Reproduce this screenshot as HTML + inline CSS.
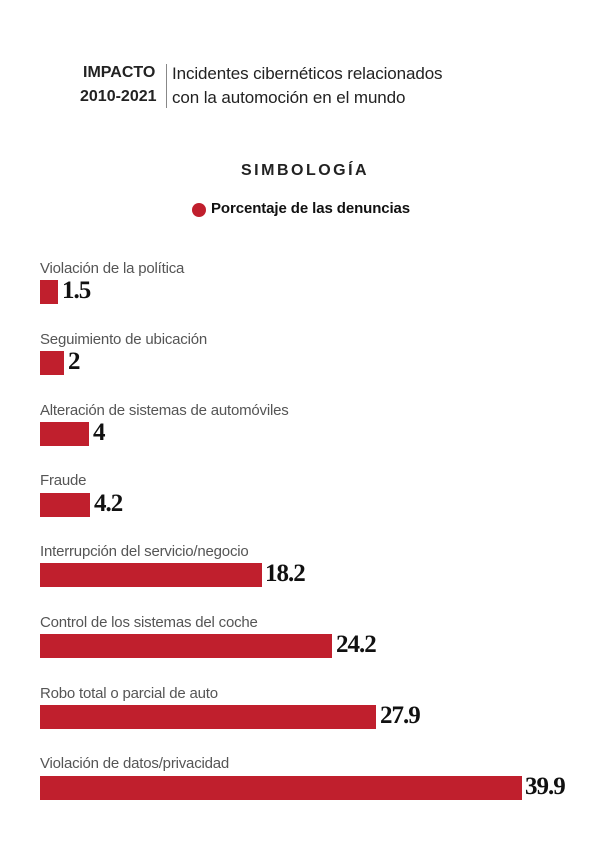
<!DOCTYPE html>
<html><head><meta charset="utf-8"><style>
body{margin:0;width:610px;height:855px;background:#fff;position:relative;font-family:"Liberation Sans",sans-serif;overflow:hidden}
.a{position:absolute;white-space:nowrap}
.lab{position:absolute;left:40px;font-size:15px;color:#555;white-space:nowrap;letter-spacing:-0.2px}
.bar{position:absolute;left:40px;height:24px;background:#c01f2d}
.val{position:absolute;font-family:"Liberation Serif",serif;font-weight:bold;font-size:25px;color:#111;white-space:nowrap;letter-spacing:-1px}
</style></head><body>
<div class="a" style="left:83px;top:64px;font-size:16px;font-weight:bold;color:#222">IMPACTO</div>
<div class="a" style="left:80px;top:88px;font-size:16px;font-weight:bold;color:#222">2010-2021</div>
<div class="a" style="left:166px;top:64px;width:1px;height:44px;background:#888"></div>
<div class="a" style="left:172px;top:64px;font-size:17px;color:#222;letter-spacing:-0.1px">Incidentes cibernéticos relacionados</div>
<div class="a" style="left:172px;top:88px;font-size:17px;color:#222;letter-spacing:-0.1px">con la automoción en el mundo</div>
<div class="a" style="left:241px;top:162px;font-size:16px;font-weight:bold;letter-spacing:2.5px;color:#222">SIMBOLOGÍA</div>
<div class="a" style="left:192px;top:203px;width:14px;height:14px;border-radius:50%;background:#c01f2d"></div>
<div class="a" style="left:211px;top:200px;font-size:15px;font-weight:bold;color:#111;letter-spacing:-0.1px">Porcentaje de las denuncias</div>

<div class="lab" style="top:260px">Violación de la política</div>
<div class="bar" style="top:280px;width:18px"></div><div class="val" style="left:62px;top:277px">1.5</div>
<div class="lab" style="top:331px">Seguimiento de ubicación</div>
<div class="bar" style="top:351px;width:24px"></div><div class="val" style="left:68px;top:348px">2</div>
<div class="lab" style="top:402px">Alteración de sistemas de automóviles</div>
<div class="bar" style="top:422px;width:49px"></div><div class="val" style="left:93px;top:419px">4</div>
<div class="lab" style="top:472px">Fraude</div>
<div class="bar" style="top:493px;width:50px"></div><div class="val" style="left:94px;top:490px">4.2</div>
<div class="lab" style="top:543px">Interrupción del servicio/negocio</div>
<div class="bar" style="top:563px;width:222px"></div><div class="val" style="left:265px;top:560px">18.2</div>
<div class="lab" style="top:614px">Control de los sistemas del coche</div>
<div class="bar" style="top:634px;width:292px"></div><div class="val" style="left:336px;top:631px">24.2</div>
<div class="lab" style="top:685px">Robo total o parcial de auto</div>
<div class="bar" style="top:705px;width:336px"></div><div class="val" style="left:380px;top:702px">27.9</div>
<div class="lab" style="top:755px">Violación de datos/privacidad</div>
<div class="bar" style="top:776px;width:482px"></div><div class="val" style="left:525px;top:773px">39.9</div>
</body></html>
